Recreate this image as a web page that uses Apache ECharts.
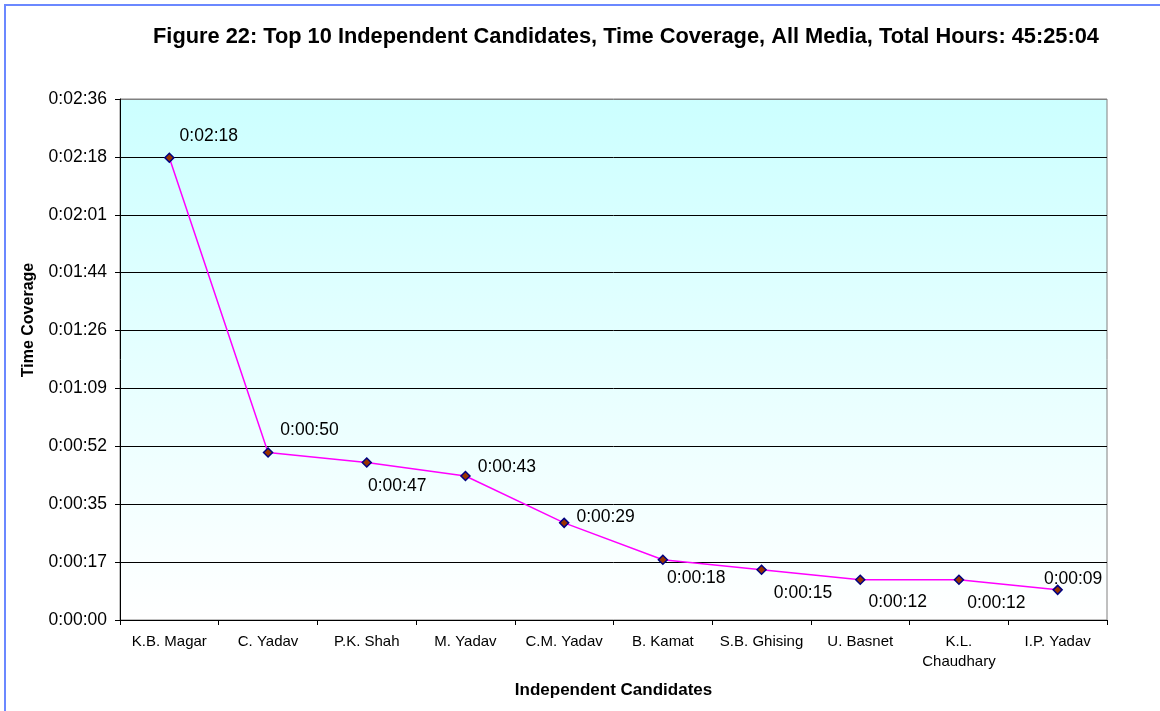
<!DOCTYPE html>
<html>
<head>
<meta charset="utf-8">
<script src="https://cdn.jsdelivr.net/npm/echarts@6/dist/echarts.min.js"></script>
<style>
  html, body { margin: 0; padding: 0; background: #ffffff; }
  #chart { width: 1160px; height: 711px; }
</style>
</head>
<body>
<div id="chart"></div>
<script>
// Candidates and their coverage time, in seconds
const candidates = ['K.B. Magar', 'C. Yadav', 'P.K. Shah', 'M. Yadav', 'C.M. Yadav',
  'B. Kamat', 'S.B. Ghising', 'U. Basnet', 'K.L.\nChaudhary', 'I.P. Yadav'];
const coverageSeconds = [138, 50, 47, 43, 29, 18, 15, 12, 12, 9];

// Y axis: step of 0.0002 day (17.28 s), nine steps
const axisStep = 17.28;
const axisMax = axisStep * 9;

// Where each value label sits next to its marker: [dx, dy]
const labelOffsets = [[0, -22], [2, -22], [-9, 24], [2, -9], [2, -6],
  [-6, 18], [2, 23], [-2, 22], [-2, 23], [-24, -11]];

function hms(sec) {
  const s = Math.round(sec);
  const h = Math.floor(s / 3600);
  const m = Math.floor((s % 3600) / 60);
  const r = s % 60;
  return h + ':' + String(m).padStart(2, '0') + ':' + String(r).padStart(2, '0');
}

const font = 'Arial, "Liberation Sans", sans-serif';
const chart = echarts.init(document.getElementById('chart'), null, { renderer: 'canvas' });

const gridColors = [];
for (let i = 0; i < 10; i++) gridColors.push(i === 9 ? '#808080' : '#000000');

chart.setOption({
  animation: false,
  backgroundColor: '#ffffff',
  textStyle: { fontFamily: font },
  graphic: [
    {
      type: 'rect',
      shape: { x: 5, y: 5, width: 1200, height: 800 },
      style: { fill: 'none', stroke: '#6b88ff', lineWidth: 2 },
      silent: true,
      z: 100
    },
    {
      // vertical axis title
      type: 'text',
      x: 29,
      y: 320,
      rotation: Math.PI / 2,
      style: {
        text: 'Time Coverage',
        font: 'bold 16px ' + font,
        fill: '#000',
        align: 'center',
        verticalAlign: 'middle'
      },
      silent: true
    }
  ],
  title: {
    text: 'Figure 22: Top 10 Independent Candidates, Time Coverage, All Media, Total Hours: 45:25:04',
    left: 621,
    textAlign: 'center',
    top: 21,
    textStyle: { fontFamily: font, fontSize: 21.8, fontWeight: 'bold', color: '#000000' }
  },
  grid: {
    left: 120, right: 53, top: 99, bottom: 91,
    show: true,
    backgroundColor: new echarts.graphic.LinearGradient(0, 0, 0, 1, [
      { offset: 0, color: '#ccffff' },
      { offset: 1, color: '#ffffff' }
    ]),
    borderColor: '#808080',
    borderWidth: 1
  },
  xAxis: {
    type: 'category',
    data: candidates,
    boundaryGap: true,
    name: 'Independent Candidates',
    nameLocation: 'middle',
    nameGap: 62,
    nameTextStyle: { fontFamily: font, fontSize: 17, fontWeight: 'bold', color: '#000' },
    axisLine: { show: true, lineStyle: { color: '#000', width: 1 } },
    axisTick: { show: true, length: 5, alignWithLabel: false, lineStyle: { color: '#000' } },
    axisLabel: { fontFamily: font, fontSize: 15, color: '#000', margin: 12, interval: 0, lineHeight: 20 },
    splitLine: { show: false }
  },
  yAxis: {
    type: 'value',
    min: 0,
    max: axisMax,
    interval: axisStep,
    axisLine: { show: true, lineStyle: { color: '#000', width: 1 } },
    axisTick: { show: true, length: 5, lineStyle: { color: '#000' } },
    axisLabel: { fontFamily: font, fontSize: 17.5, color: '#000', margin: 13, formatter: v => hms(v) },
    splitLine: { show: true, lineStyle: { color: gridColors, width: 1 } }
  },
  series: [
    {
      type: 'line',
      data: coverageSeconds.map((v, i) => ({
        value: v,
        label: { offset: labelOffsets[i] }
      })),
      lineStyle: { color: '#ff00ff', width: 1.5 },
      symbol: 'diamond',
      symbolSize: 9,
      itemStyle: { color: '#993300', borderColor: '#000080', borderWidth: 1.5 },
      label: {
        show: true,
        position: 'right',
        distance: 5,
        fontFamily: font,
        fontSize: 17.5,
        color: '#000',
        formatter: p => hms(p.value)
      },
      z: 5
    }
  ]
});
</script>
</body>
</html>
